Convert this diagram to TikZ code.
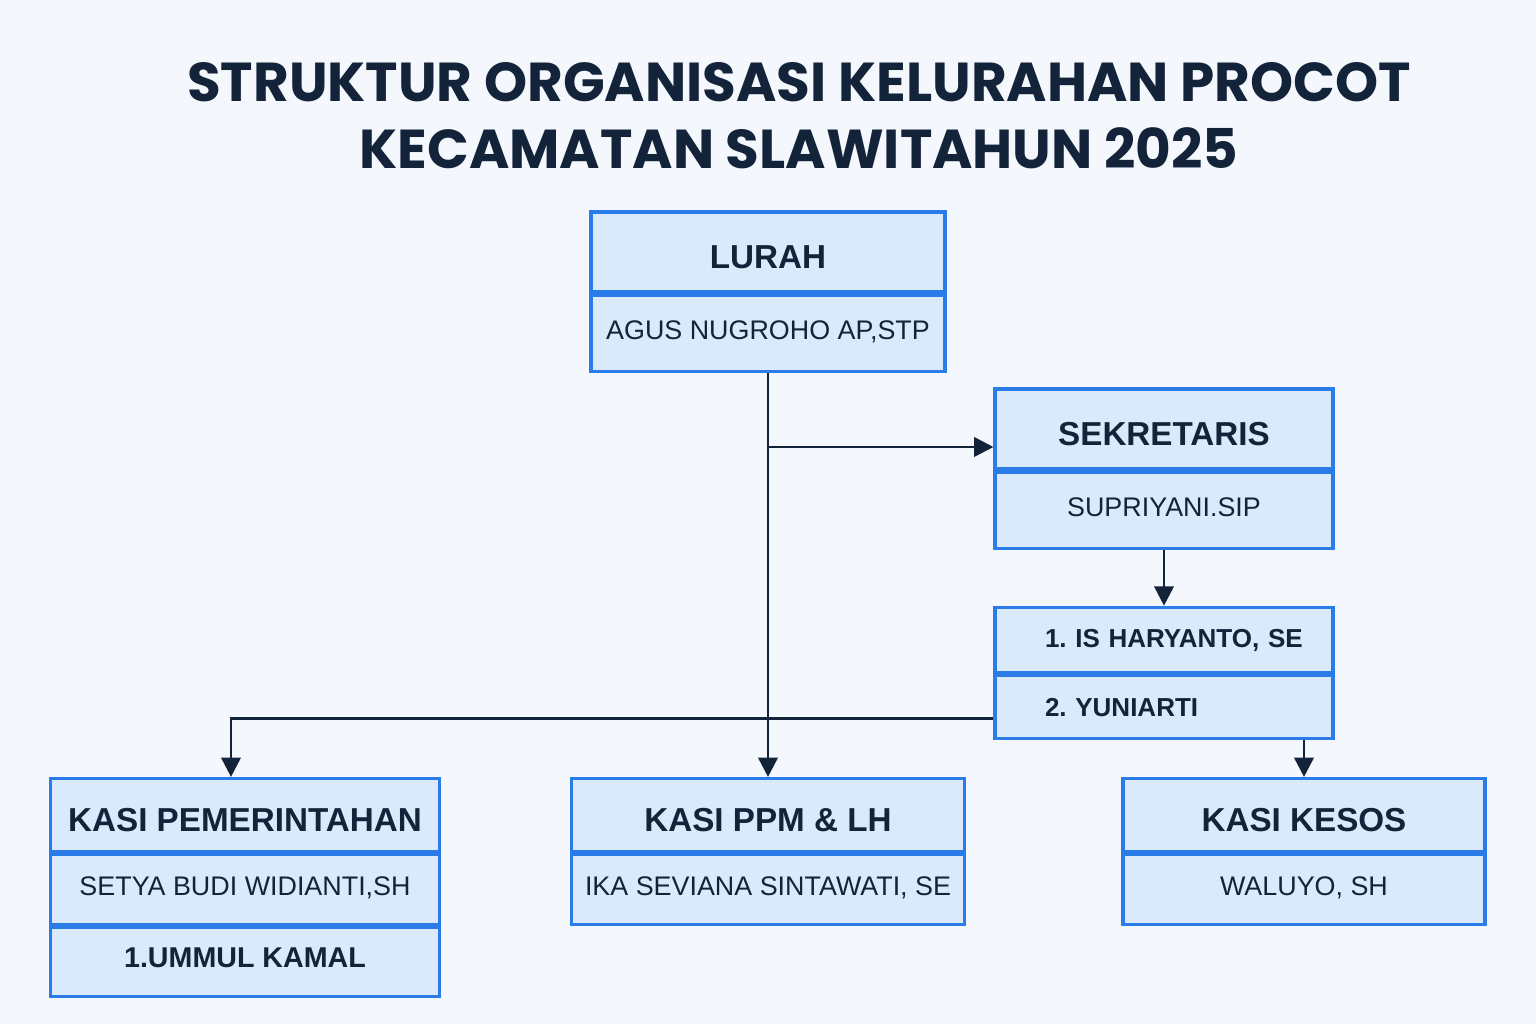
\documentclass[tikz,border=0pt]{standalone}
\usepackage{fontspec}
\setmainfont{Liberation Sans}
\newfontfamily\titlefont{Poppins}
\usepackage{tikz}
\usetikzlibrary{positioning,arrows.meta}
\frenchspacing

\definecolor{bgcol}{HTML}{F4F8FC}
\definecolor{boxfill}{HTML}{DAEAFB}
\definecolor{boxblue}{HTML}{2A7DE8}
\definecolor{inkcol}{HTML}{13233A}

\tikzset{
  unit/.style={draw=boxblue,fill=boxfill,line width=1.8pt,text=inkcol,inner sep=0pt},
  headbox/.style={unit,minimum height=1.6cm,text height=19pt,text depth=0pt,
    font=\fontsize{18.9}{20}\selectfont\bfseries},
  namebox/.style={unit,minimum height=1.53cm,text height=10.9pt,text depth=4.4pt,
    font=\fontsize{15.3}{17}\selectfont},
  link/.style={draw=inkcol,line width=1.6pt,-{Triangle[length=11pt,width=11pt]}}
}

\begin{document}
\begin{tikzpicture}[x=0.02cm,y=-0.02cm]
\fill[bgcol] (0,0) rectangle (1536,1024);
\useasboundingbox (0,0) rectangle (1536,1024);

\node[text=inkcol,align=center,font=\titlefont\fontsize{31.2}{38}\selectfont\bfseries] (title) at (799,116)
  {STRUKTUR ORGANISASI KELURAHAN PROCOT\\KECAMATAN SLAWITAHUN 2025};

% lurah
\node[headbox,minimum width=7.08cm] (lurah) at (768,252) {LURAH};
\node[namebox,minimum width=7.08cm,below=0pt of lurah] (lurahname) {AGUS NUGROHO AP,STP};

% sekretaris
\node[headbox,minimum width=6.76cm] (sekretaris) at (1164,429) {SEKRETARIS};
\node[namebox,minimum width=6.76cm,below=0pt of sekretaris] (sekretarisname) {SUPRIYANI.SIP};

% staf sekretariat
\node[unit,minimum width=6.76cm,minimum height=1.31cm,text width=5.76cm,align=left,
  font=\fontsize{14.8}{16}\selectfont\bfseries] (staf1) at (1164,640) {\hspace*{0.5cm}1. IS HARYANTO, SE};
\node[unit,minimum width=6.76cm,minimum height=1.25cm,text width=5.76cm,align=left,
  font=\fontsize{14.8}{16}\selectfont\bfseries,below=0pt of staf1] (staf2) {\hspace*{0.5cm}2. YUNIARTI};

% kasi
\node[headbox,minimum width=7.78cm,minimum height=1.46cm] (pemerintahan) at (245,815) {KASI PEMERINTAHAN};
\node[namebox,minimum width=7.78cm,minimum height=1.39cm,below=0pt of pemerintahan] (pemerintahanname) {SETYA BUDI WIDIANTI,SH};
\node[namebox,minimum width=7.78cm,minimum height=1.39cm,font=\fontsize{16.3}{18}\selectfont\bfseries,
  below=0pt of pemerintahanname] (pemerintahanstaf) {1.UMMUL KAMAL};

\node[headbox,minimum width=7.86cm,minimum height=1.46cm] (ppm) at (768,815) {KASI PPM \& LH};
\node[namebox,minimum width=7.86cm,minimum height=1.40cm,below=0pt of ppm] (ppmname) {IKA SEVIANA SINTAWATI, SE};

\node[headbox,minimum width=7.24cm,minimum height=1.46cm] (kesos) at (1304,815) {KASI KESOS};
\node[namebox,minimum width=7.24cm,minimum height=1.40cm,below=0pt of kesos] (kesosname) {WALUYO, SH};

% garis
\coordinate (sekin) at ([yshift=-0.36cm]sekretaris.west);
\coordinate (stafout) at ([yshift=-0.22cm]staf2.west);
\coordinate (pemin) at ([xshift=-0.28cm]pemerintahan.north);
\draw[link] (lurahname.south) -- (ppm.north);
\draw[link] (lurahname.south |- sekin) -- (sekin);
\draw[link] (sekretarisname.south) -- (staf1.north);
\draw[link] (stafout) -| (pemin);
\draw[link] (kesos.north |- staf2.south) -- (kesos.north);
\end{tikzpicture}
\end{document}
